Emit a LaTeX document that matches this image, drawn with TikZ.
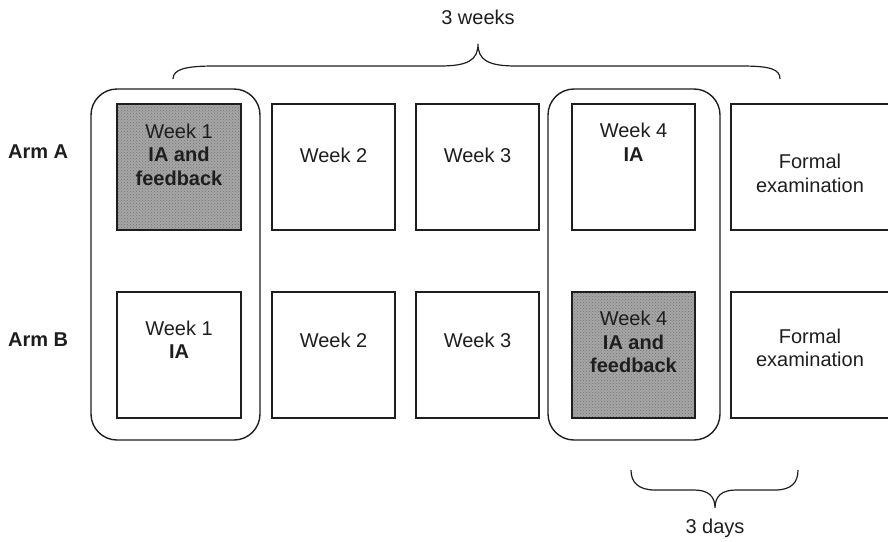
\documentclass[tikz,border=0pt]{standalone}
\usepackage{fontspec}
\setmainfont{Liberation Sans}
\usetikzlibrary{patterns}
\definecolor{ink}{HTML}{1E1E1E}
\begin{document}
\begin{tikzpicture}[x=1pt,y=-1pt,
  box/.style={draw=ink,line width=1.4pt,inner sep=0pt},
  shadedbox/.style={box,preaction={fill=black!35},pattern=crosshatch dots,pattern color=black!55},
  group/.style={draw=ink,line width=1.4pt,rounded corners=26pt,inner sep=0pt,minimum height=351pt},
  txt/.style={align=center,inner sep=0pt,text=ink,font=\fontsize{20}{23.5}\selectfont},
  armlabel/.style={anchor=west,inner sep=0pt,text=ink,font=\fontsize{20}{23.5}\selectfont\bfseries},
  brace/.style={draw=ink,line width=1.2pt}]
\useasboundingbox (0,0) rectangle (888,541);
% group outlines
\node[group,minimum width=169pt] (g1) at (175.5,264.5) {};
\node[group,minimum width=172pt] (g2) at (634,264.5) {};
% row A boxes
\node[shadedbox,minimum width=124pt,minimum height=126pt] (a1) at (179,167) {};
\node[box,minimum width=123pt,minimum height=126pt] (a2) at (333.5,167) {};
\node[box,minimum width=123pt,minimum height=126pt] (a3) at (477.5,167) {};
\node[box,minimum width=123pt,minimum height=126pt] (a4) at (633.5,167) {};
\node[box,minimum width=161pt,minimum height=126pt] (a5) at (811.5,167) {};
% row B boxes
\node[box,minimum width=124pt,minimum height=126pt] (b1) at (179,355) {};
\node[box,minimum width=123pt,minimum height=126pt] (b2) at (333.5,355) {};
\node[box,minimum width=123pt,minimum height=126pt] (b3) at (477.5,355) {};
\node[shadedbox,minimum width=123pt,minimum height=126pt] (b4) at (633.5,355) {};
\node[box,minimum width=161pt,minimum height=126pt] (b5) at (811.5,355) {};
% texts row A
\node[txt] (ta1) at (179,154.4) {Week 1\\\textbf{IA and}\\\textbf{feedback}};
\node[txt] (ta2) at (333.5,155) {Week 2};
\node[txt] (ta3) at (477.5,155) {Week 3};
\node[txt] (ta4) at (633.5,142.4) {Week 4\\\textbf{IA}};
\node[txt] (ta5) at (810,173.4) {Formal\\examination};
% texts row B
\node[txt] (tb1) at (179,339.9) {Week 1\\\textbf{IA}};
\node[txt] (tb2) at (333.5,340) {Week 2};
\node[txt] (tb3) at (477.5,340) {Week 3};
\node[txt] (tb4) at (633.5,341.9) {Week 4\\\textbf{IA and}\\\textbf{feedback}};
\node[txt] (tb5) at (810,347.9) {Formal\\examination};
% arm labels
\node[armlabel] (armA) at (8,152) {Arm A};
\node[armlabel] (armB) at (8,340) {Arm B};
% top brace
\coordinate (tbL) at (173,79);
\coordinate (tbR) at (780,79);
\coordinate (tbT) at (478,44);
\draw[brace] (tbL) .. controls (173,69) and (186,66) .. (215,66) -- (440,66)
  .. controls (468,66) and (478,60) .. (tbT)
  .. controls (478,60) and (488,66) .. (516,66) -- (741,66)
  .. controls (770,66) and (780,69) .. (tbR);
\node[txt] (weeks) at (478,17) {3 weeks};
% bottom brace
\coordinate (bbL) at (631,470);
\coordinate (bbR) at (798,470);
\coordinate (bbT) at (715,508);
\draw[brace] (bbL) .. controls (631,482) and (638,490) .. (655,490) -- (694,490)
  .. controls (708,490) and (715,496) .. (bbT)
  .. controls (715,496) and (722,490) .. (736,490) -- (775,490)
  .. controls (792,490) and (798,482) .. (bbR);
\node[txt] (days) at (715,528) {3 days};
\end{tikzpicture}
\end{document}
